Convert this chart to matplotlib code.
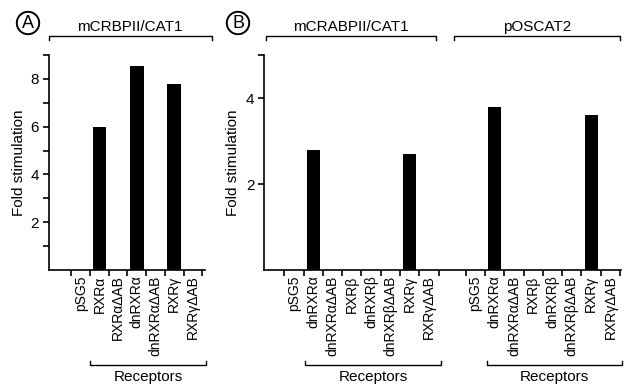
import numpy as np
import matplotlib
matplotlib.use("Agg")
import matplotlib.pyplot as plt

plt.rcParams['font.family'] = ['Liberation Sans', 'DejaVu Sans']

# --- data ---
a_labels = ["pSG5", "RXRα", "RXRαΔAB", "dnRXRα", "dnRXRαΔAB", "RXRγ", "RXRγΔAB"]
a_values = [0, 6.0, 0, 8.55, 0, 7.8, 0]

b_labels = ["pSG5", "dnRXRα", "dnRXRαΔAB", "RXRβ", "dnRXRβ", "dnRXRβΔAB", "RXRγ", "RXRγΔAB"]
b_crabp = [0, 2.8, 0, 0, 0, 0, 2.7, 0]
b_oscat = [0, 3.8, 0, 0, 0, 0, 3.6, 0]

a_title = "mCRBPII/CAT1"
b_titles = ["mCRABPII/CAT1", "pOSCAT2"]
ylabel = "Fold stimulation"
group_label = "Receptors"

W, H = 624, 385
fig = plt.figure(figsize=(W / 100, H / 100), dpi=100)

LW = 1.2
FS_TICK = 10
FS_TXT = 11


def px_rect(x0, x1, y0, y1):
    # pixel box -> figure fraction rect
    return [x0 / W, 1 - y1 / H, (x1 - x0) / W, (y1 - y0) / H]


def style_axes(ax):
    for s in ["top", "right"]:
        ax.spines[s].set_visible(False)
    for s in ["left", "bottom"]:
        ax.spines[s].set_linewidth(LW)
    ax.tick_params(axis="y", which="both", direction="out", length=4, width=LW,
                   labelsize=FS_TXT, pad=3)
    ax.tick_params(axis="x", which="major", length=0, pad=4, labelsize=FS_TICK)
    ax.tick_params(axis="x", which="minor", direction="out", length=4, width=LW)


def category_axis(ax, pos, labels):
    pos = np.asarray(pos)
    ax.set_xticks(pos)
    ax.set_xticklabels(labels, rotation=90, va="top", ha="center")
    ax.set_xticks(np.concatenate([pos - 0.5, [pos[-1] + 0.5]]), minor=True)


def bracket(ax, x0, x1, y, tip, text=None, text_y=None):
    tr = ax.get_xaxis_transform()
    ax.plot([x0, x0, x1, x1], [y + tip, y, y, y + tip], color="black",
            lw=1.0, transform=tr, clip_on=False)
    if text is not None:
        ax.text((x0 + x1) / 2, text_y, text, transform=tr, ha="center",
                va="center", fontsize=FS_TXT)


# ---------- panel A ----------
axA = fig.add_axes(px_rect(48.5, 205, 55, 270))
xa = np.arange(len(a_labels))
axA.bar(xa, a_values, width=0.74, color="black")
axA.set_xlim(-1.73, 6.65)
axA.set_ylim(0, 9)
axA.set_yticks([2, 4, 6, 8])
axA.set_yticks([1, 3, 5, 7, 9], minor=True)
category_axis(axA, xa, a_labels)
style_axes(axA)
axA.set_ylabel(ylabel, fontsize=FS_TXT, labelpad=3)

bracket(axA, -1.73, 7.0, 1.088, -0.018, a_title, 1.13)
bracket(axA, 0.5, 6.7, -0.442, 0.02, group_label, -0.497)

# ---------- panel B ----------
axB = fig.add_axes(px_rect(264, 621, 55, 270))
xb1 = np.arange(len(b_labels))
xb2 = xb1 + 9.4
axB.bar(xb1, b_crabp, width=0.68, color="black")
axB.bar(xb2, b_oscat, width=0.68, color="black")
axB.set_xlim(-1.55, 16.95)
axB.set_ylim(0, 5)
axB.set_yticks([2, 4])
axB.set_yticks([5], minor=True)
axB.set_xticks(np.concatenate([xb1, xb2]))
axB.set_xticklabels(b_labels + b_labels, rotation=90, va="top", ha="center")
axB.set_xticks(np.concatenate([xb1 - 0.5, [xb1[-1] + 0.5], xb2 - 0.5, [xb2[-1] + 0.5]]),
               minor=True)
style_axes(axB)
axB.set_ylabel(ylabel, fontsize=FS_TXT, labelpad=4)

bracket(axB, -1.44, 7.35, 1.088, -0.018, b_titles[0], 1.13)
bracket(axB, 8.3, 16.9, 1.088, -0.018, b_titles[1], 1.13)
bracket(axB, 0.6, 7.6, -0.442, 0.02, group_label, -0.497)
bracket(axB, 10.0, 17.0, -0.442, 0.02, group_label, -0.497)

# circled panel letters
for letter, xp in [("A", 28), ("B", 238)]:
    fig.text(xp / W, 1 - 23 / H, letter, ha="center", va="center", fontsize=13,
             bbox=dict(boxstyle="circle,pad=0.15", fc="white", ec="black", lw=1.4))

fig.savefig("out.png", dpi=100)
